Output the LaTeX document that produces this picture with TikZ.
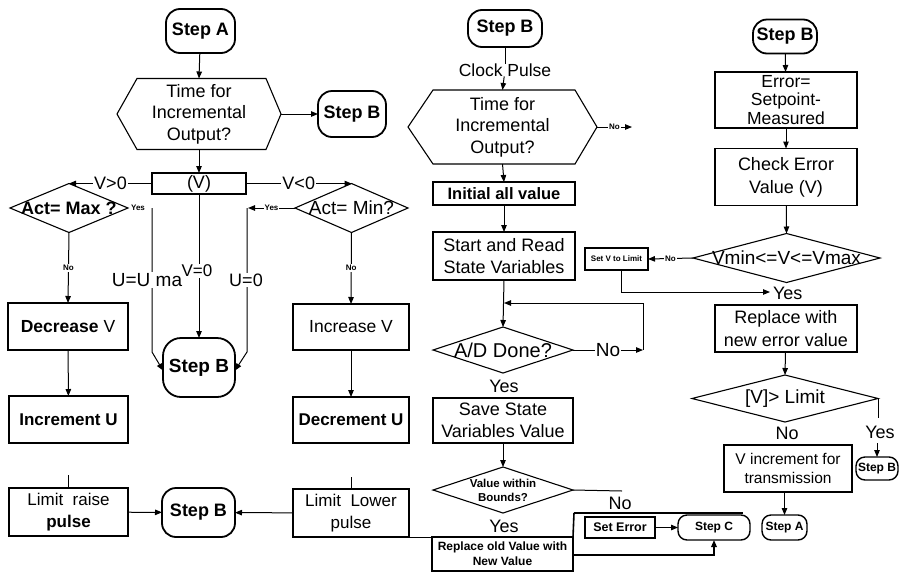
\documentclass[tikz,border=0pt]{standalone}
\usepackage{fontspec}
\setmainfont{Liberation Sans}
\usetikzlibrary{arrows.meta}
\newcommand{\myfz}[2]{\fontsize{#1}{#2}\selectfont}
\tikzset{
  every node/.style={inner sep=0pt, outer sep=0pt},
  bx/.style={draw, line width=1.1pt, align=center},
  ghost/.style={align=center},
  outl/.style={line width=1.1pt, line join=miter},
  term/.style={draw, line width=1.8pt, rounded corners=14pt, align=center, font=\bfseries\myfz{18}{21}},
  terms/.style={draw, line width=1.4pt, rounded corners=9pt, align=center, font=\bfseries\myfz{12}{14}},
  ar/.style={line width=1pt, -{Triangle[length=7pt,width=5.5pt]}},
  ln/.style={line width=1pt},
  lbl/.style={fill=white, inner sep=1pt},
  tiny/.style={font=\bfseries\myfz{8}{9}},
  t18/.style={font=\myfz{18}{21.5}},
  t17/.style={font=\myfz{17}{20}},
}
\begin{document}
\begin{tikzpicture}[x=1pt,y=-1pt]
\useasboundingbox[fill=white] (0,0) rectangle (899,576);

% ---------------- left column ----------------
\node[term, minimum width=69pt, minimum height=44pt] (stepA) at (200.5,31) {Step A};
\node[ghost, t18, minimum width=164pt, minimum height=71pt, font=\myfz{18}{21.5}] (hexA) at (199,114) {Time for\\Incremental\\Output?};
\draw[outl] (hexA.west) -- ([xshift=20pt]hexA.north west) -- ([xshift=-15pt]hexA.north east) -- (hexA.east) -- ([xshift=-15pt]hexA.south east) -- ([xshift=20pt]hexA.south west) -- cycle;
\node[term, minimum width=68pt, minimum height=46pt] (stepB1) at (352,114) {Step B};
\node[bx, t18, minimum width=94pt, minimum height=21pt] (vbox) at (199,183.5) {(V)};

\node[ghost, minimum width=118pt, minimum height=49pt, font=\bfseries\myfz{18}{20}] (dmax) at (69,208) {Act= Max ?};
\draw[outl] (dmax.west) -- (dmax.north) -- (dmax.east) -- (dmax.south) -- cycle;
\node[ghost, minimum width=113pt, minimum height=49pt, font=\myfz{19}{21}] (dmin) at (351.5,208) {Act= Min?};
\draw[outl] (dmin.west) -- (dmin.north) -- (dmin.east) -- (dmin.south) -- cycle;

\node[bx, minimum width=120pt, minimum height=47pt, font=\myfz{17.5}{20}] (decV) at (68,326.5) {\textbf{Decrease} V};
\node[bx, minimum width=119pt, minimum height=47pt, font=\bfseries\myfz{17}{20}] (incU) at (68.5,419.5) {Increment U};
\node[bx, t17, minimum width=119pt, minimum height=48pt, font=\myfz{17}{22}] (limR) at (68.5,512) {Limit\ \ raise\\\textbf{pulse}};

\node[term, minimum width=72pt, minimum height=59pt, font=\bfseries\myfz{19}{21}, rounded corners=18pt] (stepB2) at (199,367.5) {Step B};
\node[term, minimum width=73pt, minimum height=49pt] (stepB3) at (198.5,512.5) {Step B};

\node[bx, minimum width=116pt, minimum height=46pt, font=\myfz{17.5}{20}] (incV) at (351,327) {Increase V};
\node[bx, minimum width=116pt, minimum height=46pt, font=\bfseries\myfz{17}{20}] (decU) at (351,420) {Decrement U};
\node[bx, minimum width=116pt, minimum height=48pt, font=\myfz{17}{22}] (limL) at (351,513) {Limit\ \ Lower\\pulse};

\coordinate (ylt) at (152,208);
\coordinate (ylb) at (152,352);
\coordinate (yrt) at (247,208);
\coordinate (yrb) at (247,352);
\coordinate (tickL) at (68.5,475);
\coordinate (tickR) at (351,477);

\draw[ar] (stepA) -- (hexA.north);
\draw[ar] (hexA.east) -- (stepB1.west);
\draw[ar] (hexA.south) -- (vbox.north);
\draw[ar] (vbox.west) -- node[lbl, font=\myfz{18}{20}] {V>0} (dmax.north);
\draw[ar] (vbox.east) -- node[lbl, font=\myfz{18}{20}] {V<0} (dmin.north);
\node[tiny] (yesL) at (138,208) {Yes};
\draw[ar] (ylt) -- (ylb) -- ([yshift=-3pt]stepB2.west);
\draw[ar] (dmin.west) -- node[lbl, tiny] {Yes} ([xshift=1pt]yrt);
\draw[ar] (yrt) -- (yrb) -- ([yshift=-3pt]stepB2.east);
\draw[ar] (vbox.south) -- (stepB2.north);
\node[lbl, font=\myfz{19}{21}] (uum) at (147,280) {U=U ma};
\node[lbl, font=\myfz{17}{19}] (v0) at (197,271) {V=0};
\node[lbl, font=\myfz{18}{20}] (u0) at (246,280) {U=0};
\draw[ar] (dmax.south) -- node[lbl, tiny] {No} (decV.north);
\draw[ar] (dmin.south) -- node[lbl, tiny] {No} (incV.north);
\draw[ar] (decV) -- (incU);
\draw[ar] (incV) -- (decU);
\draw[ln] (tickL) -- (limR.north);
\draw[ln] (tickR) -- (limL.north);
\draw[ar] (limR) -- (stepB3);
\draw[ar] (limL) -- (stepB3);

% ---------------- middle column ----------------
\node[term, minimum width=74pt, minimum height=37pt] (stepBm) at (505,28.5) {Step B};
\node[ghost, font=\myfz{17.5}{20}] (clock) at (505,70) {Clock Pulse};
\node[ghost, minimum width=189pt, minimum height=74pt, font=\myfz{18}{21.5}] (hexB) at (502.5,127) {Time for\\Incremental\\Output?};
\draw[outl] (hexB.west) -- ([xshift=25pt]hexB.north west) -- ([xshift=-22pt]hexB.north east) -- (hexB.east) -- ([xshift=-22pt]hexB.south east) -- ([xshift=25pt]hexB.south west) -- cycle;
\coordinate (hexNo) at (632,127);
\node[bx, minimum width=142pt, minimum height=23pt, font=\bfseries\myfz{16.5}{19}] (init) at (504,193.5) {Initial all value};
\node[bx, minimum width=142pt, minimum height=48pt, font=\myfz{18}{22}] (startread) at (504,256) {Start and Read\\State Variables};
\node[ghost, minimum width=140pt, minimum height=46pt, font=\myfz{20}{22}] (dAD) at (503,350) {A/D Done?};
\draw[outl] (dAD.west) -- (dAD.north) -- (dAD.east) -- (dAD.south) -- cycle;
\node[ghost, font=\myfz{18}{20}] (yesAD) at (504,386) {Yes};
\node[bx, minimum width=140pt, minimum height=45pt, font=\myfz{18}{22}] (save) at (503,420.5) {Save State\\Variables Value};
\node[ghost, minimum width=140pt, minimum height=46pt, font=\bfseries\myfz{11.5}{14}] (dVB) at (503,490) {Value within\\Bounds?};
\draw[outl] (dVB.west) -- (dVB.north) -- (dVB.east) -- (dVB.south) -- cycle;
\node[ghost, font=\myfz{18}{20}] (yesVB) at (504,526) {Yes};
\node[bx, line width=1.6pt, minimum width=141pt, minimum height=34pt, font=\bfseries\myfz{12}{15}] (replace) at (502.5,554) {Replace old Value with\\New Value};
\node[ghost, font=\myfz{18}{20}] (noVB) at (620,503) {No};
\node[bx, minimum width=70pt, minimum height=21pt, font=\bfseries\myfz{12.5}{14}] (seterr) at (620,527.5) {Set Error};
\node[terms, minimum width=72pt, minimum height=25pt] (stepC) at (714,527.5) {Step C};
\coordinate (loopA) at (643,350);
\coordinate (loopB) at (643,303);
\coordinate (loopIn) at (504,303);
\coordinate (vbNo) at (622,491);
\coordinate (frTL) at (574,513);
\coordinate (frTR) at (743,513);
\coordinate (repR) at (573,555);

\draw[ln] (stepBm) -- (clock);
\draw[ar] (clock) -- (hexB.north);
\draw[ar] (hexB.east) -- node[lbl, tiny] {No} (hexNo);
\draw[ar] (hexB.south) -- (init.north);
\draw[ar] (init) -- (startread);
\draw[ar] (startread.south) -- (dAD.north);
\draw[ar] (dAD.east) -- node[lbl, font=\myfz{19}{21}] {No} (loopA);
\draw[ar] (loopA) -- (loopB) -- (loopIn);
\draw[ar] (save) -- (dVB.north);
\draw[ln] (dVB.east) -- (vbNo);
\draw[ln, line width=1.6pt] (frTL) -- (frTR);
\draw[ln, line width=1.6pt] (frTL) -- (replace.north east);
\draw[ar] (seterr) -- (stepC);
\draw[ar, line width=1.6pt] (repR) -| (stepC.south);
\draw[ln] (limL.south east) -- (replace.north west);

% ---------------- right column ----------------
\node[term, minimum width=64pt, minimum height=34pt] (stepBr) at (785,36.5) {Step B};
\node[bx, minimum width=142pt, minimum height=56pt, font=\myfz{17.5}{18.5}] (err) at (786,100) {Error=\\Setpoint-\\Measured};
\node[bx, minimum width=142pt, minimum height=57pt, font=\myfz{18}{23}] (chk) at (786,177) {Check Error\\Value (V)};
\node[ghost, minimum width=187pt, minimum height=49pt, font=\myfz{19}{21}] (dV) at (786.5,258) {Vmin<=V<=Vmax};
\draw[outl] (dV.west) -- (dV.north) -- (dV.east) -- (dV.south) -- cycle;
\node[bx, minimum width=63pt, minimum height=22pt, font=\bfseries\myfz{8}{9}] (setV) at (616.5,259) {Set V to Limit};
\coordinate (yesEnd) at (770,292);
\node[ghost, font=\myfz{18}{20}, anchor=west] (yesV) at (773,293) {Yes};
\node[bx, minimum width=142pt, minimum height=47pt, font=\myfz{18}{23}] (repnew) at (786,328.5) {Replace with\\new error value};
\node[ghost, minimum width=186pt, minimum height=47pt, font=\myfz{19}{21}] (dLim) at (785,398.5) {[V]> Limit};
\draw[outl] (dLim.west) -- (dLim.north) -- (dLim.east) -- (dLim.south) -- cycle;
\node[ghost, font=\myfz{18}{20}] (noLim) at (787,433) {No};
\node[ghost, font=\myfz{18}{20}] (yesLim) at (880,432) {Yes};
\node[bx, minimum width=128pt, minimum height=47pt, font=\myfz{15.5}{18.5}] (vinc) at (788,468.5) {V increment for\\transmission};
\node[terms, minimum width=45pt, minimum height=25pt] (stepAs) at (784.5,527.5) {Step A};
\node[terms, minimum width=42pt, minimum height=23pt] (stepBs) at (877,468.5) {Step B};
\coordinate (limY1) at (878,418);
\coordinate (limY2) at (877,443);

\draw[ar] (stepBr) -- (err);
\draw[ar] (err) -- (chk);
\draw[ar] (chk) -- (dV.north);
\draw[ar] (dV.west) -- node[lbl, tiny] {No} (setV.east);
\draw[ar] ([xshift=5pt]setV.south) |- (yesEnd);
\draw[ar] (repnew) -- (dLim.north);
\draw[ln] (dLim.east) -- (limY1);
\draw[ar] (limY2) -- (stepBs.north);
\draw[ar] (vinc.south -| stepAs.north) -- (stepAs.north);
\end{tikzpicture}
\end{document}
